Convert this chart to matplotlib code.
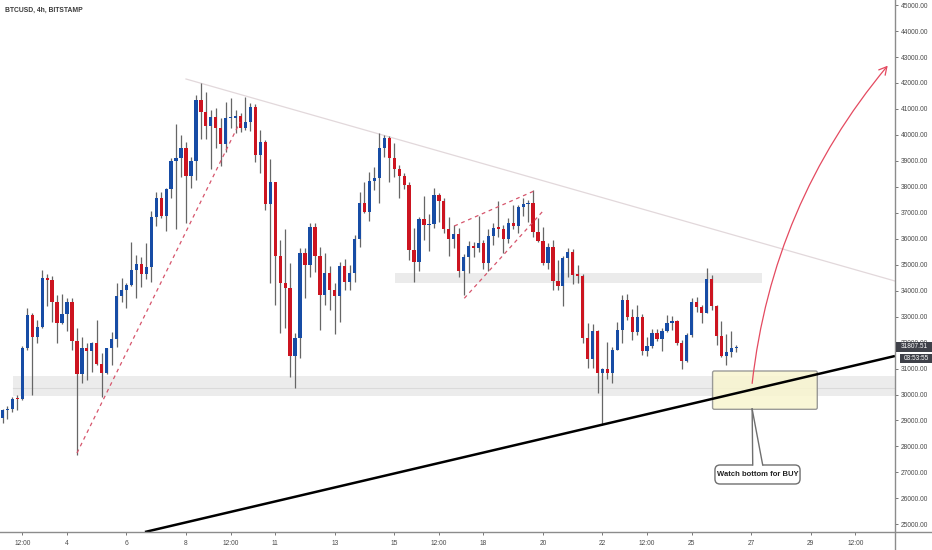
import numpy as np
import matplotlib
matplotlib.use("Agg")
import matplotlib.pyplot as plt
from matplotlib.patches import Rectangle, FancyBboxPatch, FancyArrowPatch, Polygon
from matplotlib.lines import Line2D
from matplotlib.ticker import FixedLocator, FuncFormatter

plt.rcParams['font.family'] = ['Liberation Sans', 'DejaVu Sans']

# ---------------- data ----------------
title = "BTCUSD, 4h, BITSTAMP"
first_bar_day = 1 + 20 / 24      # first bar: day 1, 20:00
bar_days = 4 / 24                # 4h bars
first_open = 29082

closes = [29403, 29455, 29827, 29814, 31779, 33063, 32203, 32613, 34475, 34411,
          33551, 32742, 33088, 33576, 32074, 30777, 31779, 31663, 31997, 31162,
          30816, 31804, 32151, 33795, 34026, 34206, 34797, 35028, 34643, 34925,
          36851, 37557, 36890, 37904, 38995, 39098, 39509, 38430, 38995, 41345,
          40896, 40356, 40677, 40254, 39650, 40639, 40664, 40742, 40254, 40485,
          41063, 39226, 39740, 37339, 38174, 35348, 34308, 34090, 31483, 32189,
          35438, 34989, 36465, 35348, 33833, 34668, 34026, 33794, 34963, 34347,
          34668, 35990, 37390, 37017, 38224, 38327, 39483, 39868, 39097, 38687,
          38417, 38070, 35566, 35117, 36761, 36529, 36568, 37685, 37467, 36363,
          35990, 36183, 34771, 35284, 35734, 35631, 35823, 35079, 36106, 36427,
          36388, 35977, 36619, 36504, 37210, 37339, 37364, 36273, 35913, 35053,
          35695, 34385, 34180, 35246, 35502, 34604, 34578, 32190, 31355, 32459,
          30816, 30970, 30816, 31715, 32485, 33641, 32999, 32421, 32973, 31689,
          31882, 32357, 32125, 32459, 32767, 32845, 31971, 31304, 32292, 33551,
          33384, 33153, 34437, 33409, 32254, 31496, 31625, 31779, 31807.51]

highs = [29429, 29557, 29917, 29981, 31882, 33320, 33127, 32870, 34796, 34642,
         34565, 33833, 33859, 33705, 33705, 32549, 32228, 31971, 32036, 32870,
         31586, 31804, 32421, 34283, 34475, 34283, 35888, 35374, 35310, 35849,
         37069, 37788, 37814, 37968, 39098, 40408, 39997, 39740, 39162, 41538,
         41987, 41666, 40960, 41024, 40639, 41255, 41409, 40960, 40831, 41473,
         41217, 41178, 40189, 39804, 39059, 38199, 35952, 36362, 35053, 32356,
         35631, 35631, 36619, 36594, 35695, 35464, 34963, 34282, 35117, 35207,
         34989, 36144, 37813, 38199, 38584, 38776, 40086, 39996, 39958, 39675,
         38841, 38520, 38199, 36401, 36825, 37646, 36940, 37942, 37775, 37557,
         36825, 36530, 36401, 35413, 35926, 35888, 36876, 35952, 36363, 36619,
         37454, 36530, 36786, 37300, 37300, 37557, 37493, 37878, 36786, 36440,
         35823, 35952, 35181, 35335, 35631, 35592, 34989, 34629, 32742, 32703,
         32485, 31034, 32036, 31843, 32806, 33833, 33859, 33294, 33448, 33088,
         32228, 32524, 32524, 32549, 33063, 33024, 32870, 32100, 32357, 33705,
         33769, 33448, 34860, 34604, 33448, 32832, 32318, 32446, 31907]

lows = [28915, 29044, 29314, 29403, 29789, 31715, 29981, 31971, 32549, 33409,
        32780, 31971, 32703, 32459, 31715, 27670, 30431, 30559, 30854, 31137,
        29917, 30777, 31137, 31843, 33576, 33320, 34180, 33731, 34155, 34450,
        34347, 36491, 36787, 36312, 37583, 36376, 38392, 36620, 37942, 38263,
        39843, 39843, 38674, 39509, 38816, 39329, 40254, 40061, 40100, 40189,
        40151, 38944, 38546, 37108, 34283, 33448, 32356, 32549, 30687, 30238,
        31393, 33705, 34539, 34732, 32485, 33448, 33255, 32331, 32806, 34026,
        34026, 34347, 35669, 36979, 36696, 37878, 37364, 39162, 38199, 38391,
        37557, 37903, 35181, 34347, 34770, 35952, 35541, 36401, 36658, 36234,
        35335, 35631, 34514, 33833, 34693, 35310, 35502, 34822, 34771, 35759,
        36080, 35438, 35823, 36363, 36209, 36876, 36658, 36055, 35888, 34989,
        34822, 34026, 34026, 33409, 34539, 34257, 34283, 31971, 31008, 31008,
        30045, 28826, 30598, 30431, 31740, 31997, 32870, 32100, 32292, 31522,
        31496, 31804, 32061, 31676, 32395, 32485, 31907, 30970, 31265, 32228,
        33191, 32742, 33127, 33255, 31907, 31458, 31137, 31458, 31625]

last_price = 31807.51
countdown = "03:53:55"

xtick_days = [2.5, 4, 6, 8, 9.5, 11, 13, 15, 16.5, 18, 20, 22, 23.5, 25, 27, 29, 30.5]
xtick_labels = ["12:00", "4", "6", "8", "12:00", "11", "13", "15", "12:00",
                "18", "20", "22", "12:00", "25", "27", "29", "12:00"]
ytick_values = list(range(25000, 45001, 1000))

# drawings (day, price)
support_zone = (2.185, 31.83, 29950, 30710)
support_mid = 30250
resist_zone = (15.03, 27.36, 34300, 34680)
upper_trend = [(8.0, 42153), (31.83, 34372)]
lower_trend = [(6.62, 24704), (31.83, 31483)]
dash_lines = [[(4.336, 27747), (9.815, 40497)],
              [(17.02, 36491), (19.70, 37839)],
              [(17.355, 33706), (20.01, 37080)]]
buy_box = (25.70, 29.22, 29430, 30906)
arrow_pts = [(27.03, 30428), (31.586, 42666)]
callout_text = "Watch bottom for BUY"
callout_box = (25.78, 28.64, 26553, 27285)
callout_tip = (27.03, 29442)
callout_base = (27.05, 27.385)

XLIM = (1.748, 31.832)
YLIM = (24704, 45196)

BLUE = "#174ca5"
RED = "#cc1420"
WICK = "#666666"
GRID_TXT = "#4a4a4a"

# ---------------- figure ----------------
W, H = 932, 550
fig = plt.figure(figsize=(W / 100, H / 100), dpi=100)
fig.patch.set_facecolor("white")
ax = fig.add_axes([0, 18 / H, 895 / W, 532 / H])
ax.set_xlim(*XLIM)
ax.set_ylim(*YLIM)
for s in ax.spines.values():
    s.set_visible(False)

# zones
x0, x1, y0, y1 = support_zone
ax.add_patch(Rectangle((x0, y0), x1 - x0, y1 - y0, fc="#ececec", ec="none", zorder=1))
ax.plot([x0, x1], [support_mid, support_mid], color="#dadada", lw=0.8, zorder=1.5)
x0, x1, y0, y1 = resist_zone
ax.add_patch(Rectangle((x0, y0), x1 - x0, y1 - y0, fc="#ebebeb", ec="none", zorder=1))

# upper falling trendline
ax.plot(*zip(*upper_trend), color="#e2d8db", lw=0.9, zorder=2)

# candles
n = len(closes)
t = first_bar_day + np.arange(n) * bar_days
c = np.array(closes, dtype=float)
o = np.concatenate([[first_open], c[:-1]])
hi = np.maximum(np.array(highs, float), np.maximum(o, c))
lo = np.minimum(np.array(lows, float), np.minimum(o, c))
cols = np.where(c >= o, BLUE, RED)
ax.vlines(t, lo, hi, color=WICK, lw=0.9, zorder=3)
ax.bar(t, np.maximum(np.abs(c - o), 45), bottom=np.minimum(o, c), width=0.11,
       color=cols, linewidth=0, zorder=4)

# red dashed lines
for seg in dash_lines:
    ax.plot(*zip(*seg), color="#d6556c", lw=0.9, ls=(0, (3, 3)), zorder=5)

# yellow buy box
bx0, bx1, by0, by1 = buy_box
asp = (YLIM[1] - YLIM[0]) / 532 / ((XLIM[1] - XLIM[0]) / 895)
ax.add_patch(FancyBboxPatch((bx0, by0), bx1 - bx0, by1 - by0,
                            boxstyle="round,pad=0,rounding_size=0.06",
                            mutation_aspect=asp, fc="#f8f5cf", ec="#8a8a8a",
                            lw=1.0, alpha=0.85, zorder=5))

# black rising trendline
ax.plot(*zip(*lower_trend), color="black", lw=1.8, zorder=6, solid_capstyle="butt")

# red arrow
ax.add_patch(FancyArrowPatch(arrow_pts[0], arrow_pts[1],
                             connectionstyle="arc3,rad=-0.15",
                             arrowstyle="->,head_length=0.55,head_width=0.3",
                             mutation_scale=10, color="#e44a60", lw=0.9,
                             shrinkA=0, shrinkB=0, zorder=6))

# callout
cx0, cx1, cy0, cy1 = callout_box
ax.add_patch(FancyBboxPatch((cx0, cy0), cx1 - cx0, cy1 - cy0,
                            boxstyle="round,pad=0,rounding_size=0.17",
                            mutation_aspect=asp, fc="white", ec="#6f6f6f",
                            lw=1.0, zorder=7))
ax.add_patch(Polygon([callout_tip, (callout_base[0], cy1 - 40), (callout_base[1], cy1 - 40)],
                     closed=True, fc="white", ec="none", zorder=7.5))
ax.plot([callout_tip[0], callout_base[0]], [callout_tip[1], cy1], color="#6f6f6f", lw=1.0, zorder=8)
ax.plot([callout_tip[0], callout_base[1]], [callout_tip[1], cy1], color="#6f6f6f", lw=1.0, zorder=8)
ax.text((cx0 + cx1) / 2, (cy0 + cy1) / 2, callout_text, ha="center", va="center",
        fontsize=5.5, fontweight="bold", color="#222222", zorder=9)

# ticks
ax.yaxis.tick_right()
ax.yaxis.set_major_locator(FixedLocator(ytick_values))
ax.yaxis.set_major_formatter(FuncFormatter(lambda v, p: f"{v:.2f}"))
ax.xaxis.set_major_locator(FixedLocator(xtick_days))
ax.set_xticklabels(xtick_labels)
ax.tick_params(axis="y", direction="out", length=2.5, width=0.7, color="#777777",
               labelsize=4.8, labelcolor=GRID_TXT, pad=1.5)
ax.tick_params(axis="x", direction="out", length=2.5, width=0.7, color="#777777",
               labelsize=4.8, labelcolor=GRID_TXT, pad=3.5)

# axis lines
fig.add_artist(Line2D([895 / W, 895 / W], [0, 1], color="#8c8c8c", lw=1.0))
fig.add_artist(Line2D([0, 1], [1 - 532 / H, 1 - 532 / H], color="#8c8c8c", lw=1.0))

# title
fig.text(5 / W, 1 - 10 / H, title, ha="left", va="center", fontsize=4.9,
         fontweight="bold", color="#3a3a3a")

# price labels on axis
fig.add_artist(Rectangle((896 / W, 1 - 352 / H), 36 / W, 10.5 / H,
                         transform=fig.transFigure, fc="#3f4149", ec="none", zorder=10))
fig.text(914 / W, 1 - 347 / H, f"{last_price:.2f}", ha="center", va="center",
         fontsize=4.7, color="white", zorder=11)
fig.add_artist(Rectangle((900 / W, 1 - 363 / H), 32 / W, 9.5 / H,
                         transform=fig.transFigure, fc="#3f4149", ec="none", zorder=10))
fig.text(916 / W, 1 - 358.3 / H, countdown, ha="center", va="center",
         fontsize=4.7, color="white", zorder=11)

fig.savefig("out.png", dpi=100, facecolor="white")
